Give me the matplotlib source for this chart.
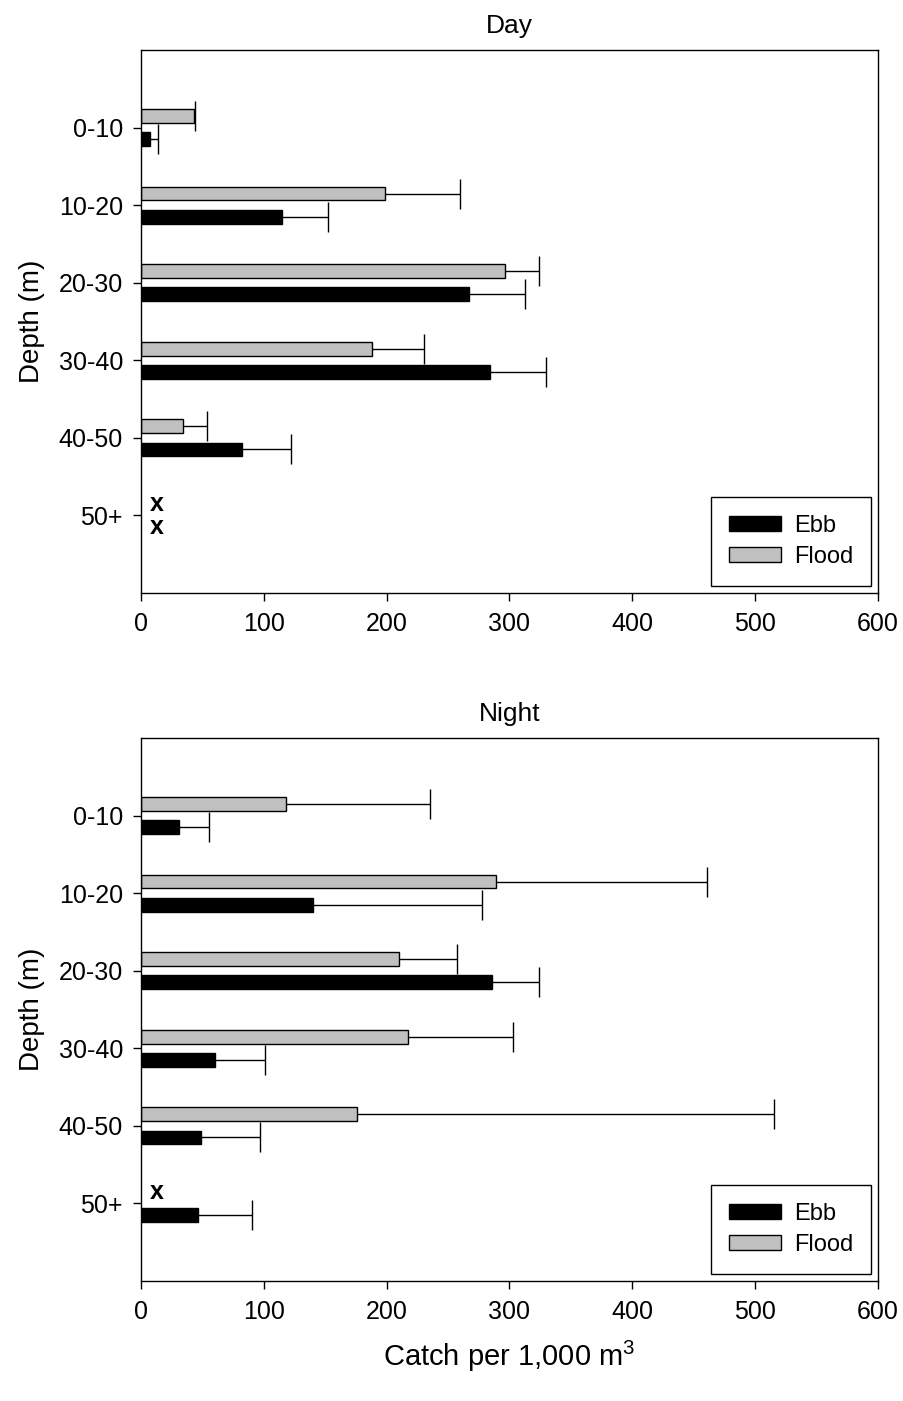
import numpy as np
import matplotlib
matplotlib.use("Agg")
import matplotlib.pyplot as plt
from matplotlib.patches import Patch

plt.rcParams['font.family'] = ['Liberation Sans', 'DejaVu Sans']
plt.rcParams['mathtext.fontset'] = 'custom'
plt.rcParams['mathtext.rm'] = 'Liberation Sans'

depths = ["0-10", "10-20", "20-30", "30-40", "40-50", "50+"]

# None = not sampled (drawn as an "x")
day_ebb = [7, 115, 267, 284, 82, None]
day_ebb_err = [7, 37, 46, 46, 40, None]
day_flood = [43, 199, 296, 188, 34, None]
day_flood_err = [1, 61, 28, 42, 20, None]

night_ebb = [31, 140, 286, 60, 49, 46]
night_ebb_err = [24, 138, 38, 41, 48, 44]
night_flood = [118, 289, 210, 217, 176, None]
night_flood_err = [117, 172, 47, 86, 339, None]

GRAY = "#c0c0c0"
OFF = 0.15
BAR_H = 0.18


def drawPanel(ax, title, ebb, ebb_err, flood, flood_err):
    y = np.arange(len(depths))
    for vals, errs, shift, color in [(ebb, ebb_err, OFF, "black"),
                                     (flood, flood_err, -OFF, GRAY)]:
        for i, (v, e) in enumerate(zip(vals, errs)):
            if v is None:
                ax.text(12.5, y[i] + shift, "x", ha="center", va="center",
                        fontsize=18, fontweight="bold")
                continue
            ax.barh(y[i] + shift, v, height=BAR_H, color=color,
                    edgecolor="black", linewidth=1, zorder=2)
            eb = ax.errorbar(v, y[i] + shift, xerr=[[0], [e]], fmt="none",
                             ecolor="black", elinewidth=1, capsize=11,
                             capthick=1, zorder=1)
            # one-sided: hide the cap sitting on the bar end
            eb[1][0].set_visible(False)
    ax.set_xlim(0, 600)
    ax.set_ylim(6, -1)
    ax.set_yticks(y)
    ax.set_yticklabels(depths)
    ax.set_xticks(np.arange(0, 601, 100))
    ax.tick_params(direction="out", length=6, width=1, labelsize=18)
    ax.tick_params(axis="x", pad=8)
    ax.tick_params(axis="y", pad=7)
    ax.set_ylabel("Depth (m)", fontsize=20, labelpad=10)
    ax.set_title(title, fontsize=19, pad=12)
    for s in ax.spines.values():
        s.set_linewidth(1)
    handles = [Patch(facecolor="black", edgecolor="black", label="Ebb"),
               Patch(facecolor=GRAY, edgecolor="black", label="Flood")]
    leg = ax.legend(handles=handles, loc="lower right", fontsize=17,
                    fancybox=False, framealpha=1, edgecolor="black",
                    handlelength=2.2, handleheight=0.6, borderpad=0.75,
                    borderaxespad=0.3, labelspacing=0.4, handletextpad=0.55)
    leg.get_frame().set_linewidth(1)


fig = plt.figure(figsize=(9.04, 14.01), dpi=100)
ax1 = fig.add_axes([141 / 904, 1 - 593 / 1401, 737 / 904, 543 / 1401])
ax2 = fig.add_axes([141 / 904, 1 - 1281 / 1401, 737 / 904, 543 / 1401])

drawPanel(ax1, "Day", day_ebb, day_ebb_err, day_flood, day_flood_err)
drawPanel(ax2, "Night", night_ebb, night_ebb_err, night_flood, night_flood_err)
ax2.set_xlabel("Catch per 1,000 m$^3$", fontsize=21, labelpad=10)

fig.savefig("out.png", dpi=100)
